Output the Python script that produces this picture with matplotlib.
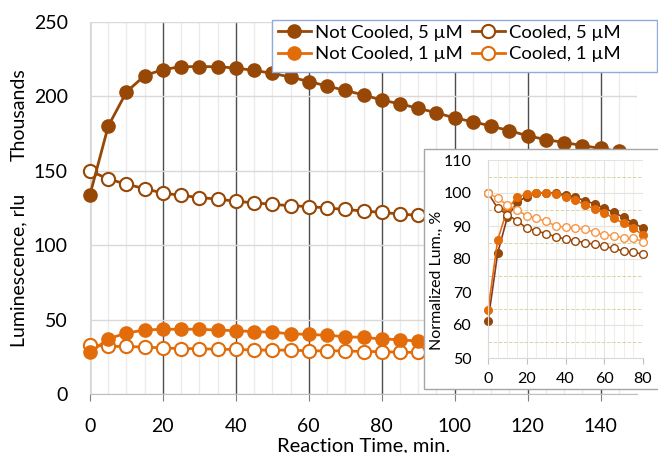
import matplotlib.pyplot as plt
from matplotlib.patches import Rectangle
from matplotlib.ticker import MultipleLocator

plt.rcParams['font.family'] = ['Lato', 'DejaVu Sans']

# main panel: luminescence (thousands rlu) vs time
t_nc5 = list(range(0, 150, 5))
nc5 = [134, 180, 203, 214, 218, 220, 220, 220, 219, 217.5, 215.5, 213, 210, 207, 204,
       201, 197.5, 195, 192, 189, 185.5, 183, 180, 177, 173.5, 171, 169, 167, 165, 163]
t_low = list(range(0, 100, 5))
c5 = [150, 144.5, 141, 138, 135, 133.5, 132, 131, 129.5, 128.5, 127.5, 126.5, 126, 125, 124,
      123, 122, 121, 120, 119]
nc1 = [28, 37, 41, 43, 43.5, 43.5, 43.5, 43, 42.5, 42, 41.5, 40.5, 40, 39.5, 38.5, 38, 37,
       36.5, 35.5, 35]
c1 = [33, 32, 32, 31.5, 31, 30.5, 30.5, 30, 30, 29.5, 29.5, 29.5, 29, 29, 29, 28.5, 28.5,
      28, 28, 28]

# inset: normalized luminescence (%)
t_ins = list(range(0, 85, 5))
nc5_n = [61.1, 81.8, 92.7, 97.2, 98.9, 100, 100, 100, 99.4, 98.7, 97.7, 96.7, 95.4, 94.1,
         92.6, 91, 89.3]
nc1_n = [64.4, 85.8, 95.1, 98.7, 99.7, 100, 100, 99.7, 98.9, 97.9, 96.4, 95.2, 93.9, 92.4,
         90.8, 89.3, 87.3]
c5_n = [100, 95.4, 93.4, 91.6, 89.3, 88.6, 87.6, 86.8, 86, 85.5, 85, 84.4, 83.8, 83.2, 82.4,
        82, 81.5]
c1_n = [100, 98.4, 96.4, 94.9, 93.1, 92.4, 91.4, 90, 89.6, 89.3, 89.1, 88.1, 87.3, 87.1,
        86.3, 86.3, 85.3]

brown = '#974806'
orange = '#E36C0A'
light = '#F79646'

fig = plt.figure(figsize=(6.58, 4.53), dpi=100)
ax = fig.add_axes([90/658, 1-394/453, 547/658, 372/453])

ax.plot(t_nc5, nc5, color=brown, lw=2, marker='o', ms=9.5, label='Not Cooled, 5 µM',
        zorder=4, clip_on=False)
ax.plot(t_low, nc1, color=orange, lw=2, marker='o', ms=9.5, label='Not Cooled, 1 µM',
        zorder=4, clip_on=False)
ax.plot(t_low, c5, color=brown, lw=2, marker='o', ms=9.5, mfc='white', mew=1.5,
        label='Cooled, 5 µM', zorder=3, clip_on=False)
ax.plot(t_low, c1, color=orange, lw=2, marker='o', ms=9.5, mfc='white', mew=1.5,
        label='Cooled, 1 µM', zorder=3, clip_on=False)

ax.set_xlim(0, 150)
ax.set_ylim(0, 250)
ax.xaxis.set_major_locator(MultipleLocator(20))
ax.xaxis.set_minor_locator(MultipleLocator(5))
ax.yaxis.set_major_locator(MultipleLocator(50))
ax.grid(True, which='minor', axis='x', color='#EBEBEB', lw=1)
ax.grid(True, which='major', axis='x', color='#4D4D4D', lw=1)
ax.grid(True, which='major', axis='y', color='#D9D9D9', lw=1)
ax.set_axisbelow(True)
for s in ['top', 'right']:
    ax.spines[s].set_visible(False)
ax.spines['left'].set_color('#D9D9D9')
ax.spines['bottom'].set_color('#BFBFBF')
ax.tick_params(axis='x', which='major', length=5, color='#7F7F7F', pad=12, labelsize=14)
ax.tick_params(axis='x', which='minor', length=0)
ax.tick_params(axis='y', length=0, pad=16, labelsize=14)
ax.set_xlabel('Reaction Time, min.', fontsize=14.5, labelpad=2)

fig.text(19/658, 1-270/453, 'Luminescence, rlu', rotation=90, ha='center', va='center', fontsize=14)
fig.text(19/658, 1-115/453, 'Thousands', rotation=90, ha='center', va='center', fontsize=14)

# legend box (Excel draws it wider than its entries)
fig.patches.append(Rectangle((272/658, 1-72/453), 385/658, 52/453, transform=fig.transFigure,
                             facecolor='white', edgecolor='#8FAADC', lw=1, zorder=1))
h, l = ax.get_legend_handles_labels()
fig.legend(h, l, ncol=2, loc='upper left', bbox_to_anchor=(274/658, 1-21/453),
           borderaxespad=0, fontsize=13.3, frameon=False, handlelength=1.8,
           columnspacing=0.5, handletextpad=0.2, labelspacing=0.3, borderpad=0.2)

# white box behind the inset
fig.patches.append(Rectangle((424/658, 1-389/453), 240/658, 240/453, transform=fig.transFigure,
                             facecolor='white', edgecolor='#A6A6A6', lw=1, zorder=2))

ins = fig.add_axes([488/658, 1-358/453, 155/658, 198/453], zorder=3)
ins.patch.set_alpha(0)
ins.plot(t_ins, nc5_n, color='#7F3A2A', lw=1.2, marker='o', ms=5.5, mfc=brown, mec=brown,
         clip_on=False)
ins.plot(t_ins, nc1_n, color=orange, lw=1.2, marker='o', ms=5.5, clip_on=False)
ins.plot(t_ins, c5_n, color=brown, lw=1.2, marker='o', ms=5.5, mfc='white', mew=1,
         clip_on=False)
ins.plot(t_ins, c1_n, color=light, lw=1.2, marker='o', ms=5.5, mfc='white', mew=1,
         clip_on=False)
ins.set_xlim(0, 80)
ins.set_ylim(50, 110)
ins.xaxis.set_major_locator(MultipleLocator(20))
ins.xaxis.set_minor_locator(MultipleLocator(5))
ins.yaxis.set_major_locator(MultipleLocator(10))
ins.yaxis.set_minor_locator(MultipleLocator(5))
ins.grid(True, which='minor', axis='x', color='#F0EEE6', lw=0.8)
ins.grid(True, which='major', axis='x', color='#E3E3E3', lw=0.8)
ins.grid(True, which='major', axis='y', color='#E3E3E3', lw=0.8)
ins.grid(True, which='minor', axis='y', color='#D8D3A8', lw=0.7, ls='--')
ins.set_axisbelow(True)
for s in ['top', 'right']:
    ins.spines[s].set_visible(False)
ins.spines['left'].set_color('#D9D9D9')
ins.spines['bottom'].set_color('#D9D9D9')
ins.tick_params(axis='x', which='major', length=4, color='#BFBFBF', pad=6, labelsize=11.5)
ins.tick_params(axis='x', which='minor', length=0)
ins.tick_params(axis='y', which='both', length=0, pad=12, labelsize=11.5)
fig.text(437/658, 1-280/453, 'Normalized Lum., %', rotation=90, ha='center', va='center',
         fontsize=11.5, zorder=4)

fig.savefig('out.png', dpi=100)
